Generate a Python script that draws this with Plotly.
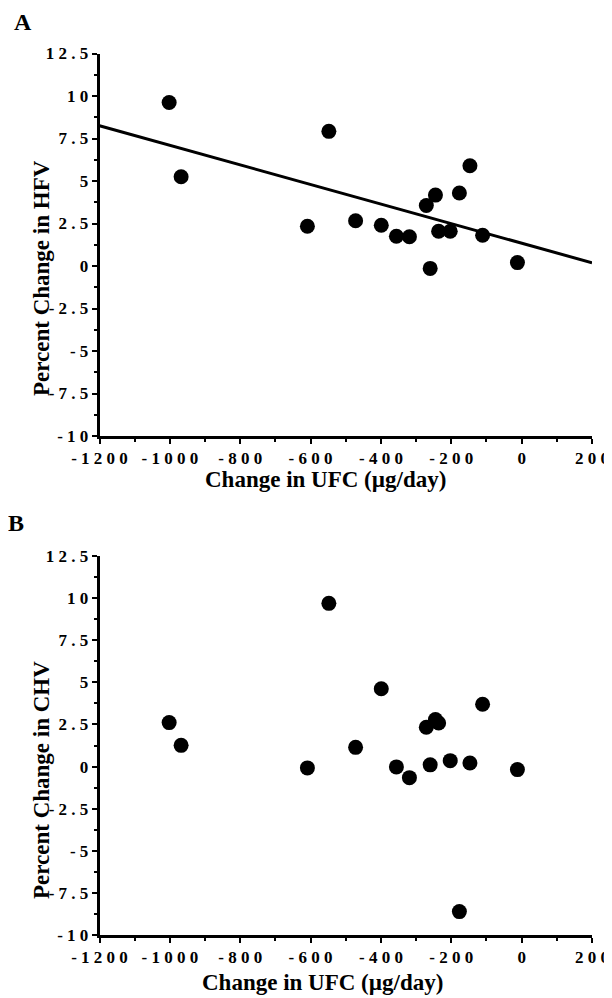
import plotly.graph_objects as go

# ---- data ----
ufc_change = [-1002, -968, -609, -548, -472, -399, -356, -319, -271, -260,
              -245, -236, -203, -177, -147, -111, -12]
hfv_change = [9.62, 5.25, 2.34, 7.92, 2.66, 2.40, 1.75, 1.72, 3.56, -0.14,
              4.17, 2.04, 2.04, 4.29, 5.90, 1.81, 0.20]
chv_change = [2.61, 1.26, -0.08, 9.69, 1.14, 4.62, -0.02, -0.66, 2.33, 0.10,
              2.79, 2.59, 0.35, -8.61, 0.21, 3.70, -0.18]

fit_x = [-1200, 200]
fit_y = [8.25, 0.19]

x_ticks = [-1200, -1000, -800, -600, -400, -200, 0, 200]
y_ticks = [12.5, 10, 7.5, 5, 2.5, 0, -2.5, -5, -7.5, -10]

def spaced(v):
    s = ("%g" % v)
    return " ".join(list(s))

FONT = "Liberation Serif"
TICK_SIZE = 17

# the page body has a default 8px margin, so the figure is sized to fit the window
PAGE_OFF = 8
W, H = 612 - PAGE_OFF, 998 - PAGE_OFF

def xp(px):
    return (px - PAGE_OFF) / W

def yp(py):
    return 1 - (py - PAGE_OFF) / H

fig = go.Figure()

fig.add_trace(go.Scatter(x=fit_x, y=fit_y, mode="lines",
                         line=dict(color="black", width=3),
                         xaxis="x", yaxis="y", showlegend=False, cliponaxis=False))
fig.add_trace(go.Scatter(x=ufc_change, y=hfv_change, mode="markers",
                         marker=dict(color="black", size=15),
                         xaxis="x", yaxis="y", showlegend=False, cliponaxis=False))
fig.add_trace(go.Scatter(x=ufc_change, y=chv_change, mode="markers",
                         marker=dict(color="black", size=15),
                         xaxis="x2", yaxis="y2", showlegend=False, cliponaxis=False))

xdom = [xp(99.5), xp(592)]
ydomA = [yp(436), yp(53.5)]
ydomB = [yp(935), yp(556)]

def xaxis(anchor):
    return dict(domain=xdom, anchor=anchor, range=[-1200, 200], automargin=False,
                showline=True, linecolor="black", linewidth=2.5,
                showgrid=False, zeroline=False,
                ticks="outside", ticklen=5, tickwidth=2, tickcolor="black",
                tickvals=x_ticks, ticktext=[spaced(v) for v in x_ticks],
                tickfont=dict(family=FONT, size=TICK_SIZE, color="black", weight="bold"),
                minor=dict(ticks="outside", dtick=100, tick0=0, ticklen=3,
                           tickwidth=2, tickcolor="black", showgrid=False))

def yaxis(anchor, dom):
    return dict(domain=dom, anchor=anchor, range=[-10, 12.5], automargin=False,
                showline=True, linecolor="black", linewidth=2.5,
                showgrid=False, zeroline=False,
                ticks="outside", ticklen=5, tickwidth=2, tickcolor="black",
                tickvals=y_ticks, ticktext=[spaced(v) for v in y_ticks],
                tickfont=dict(family=FONT, size=TICK_SIZE, color="black", weight="bold"),
                minor=dict(ticks="outside", dtick=1.25, tick0=0, ticklen=3,
                           tickwidth=2, tickcolor="black", showgrid=False))

fig.update_layout(
    width=W, height=H,
    margin=dict(l=0, r=0, t=0, b=0, autoexpand=False),
    paper_bgcolor="white", plot_bgcolor="white",
    font=dict(family=FONT, color="black"),
    xaxis=xaxis("y"), yaxis=yaxis("x", ydomA),
    xaxis2=xaxis("y2"), yaxis2=yaxis("x2", ydomB),
)

def ann(text, x, y, size, angle=0):
    fig.add_annotation(text=text, x=xp(x), y=yp(y), xref="paper", yref="paper",
                       showarrow=False, textangle=angle, xanchor="center", yanchor="middle",
                       font=dict(family=FONT, size=size, color="black", weight="bold"))

ann("A", 23, 21.5, 24)
ann("B", 16, 523, 24)
ann("Percent Change in HFV", 41, 278, 23, -90)
ann("Percent Change in CHV", 41, 780, 23, -90)
ann("Change in UFC (\u00b5g/day)", 325, 480, 23)
ann("Change in UFC (\u00b5g/day)", 322, 982, 23)

fig.write_html("out.html")
